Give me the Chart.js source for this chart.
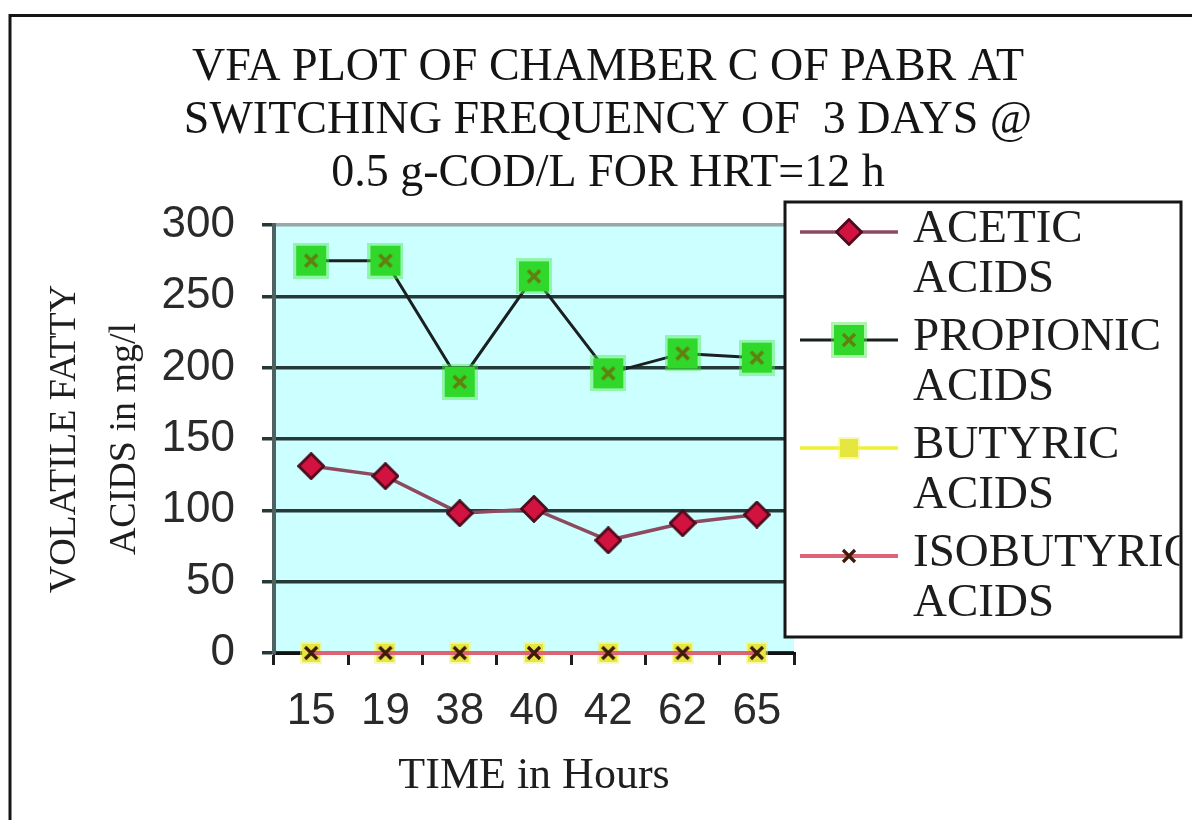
<!DOCTYPE html>
<html>
<head>
<meta charset="utf-8">
<title>VFA plot of chamber C of PABR</title>
<script src="https://cdn.jsdelivr.net/npm/chart.js@4.4.1/dist/chart.umd.min.js"></script>
<style>
  html, body { margin: 0; padding: 0; background: #ffffff; }
  #wrap { width: 1192px; height: 820px; position: relative; }
</style>
</head>
<body>
<div id="wrap"><canvas id="vfa" width="1192" height="820"></canvas></div>
<script>
// Sampling times (hours)
const hours = ['15', '19', '38', '40', '42', '62', '65'];

// Volatile fatty acid concentrations, mg/l
const acetic     = [131, 124, 98, 101, 79, 91, 97];
const propionic  = [275, 275, 190, 264, 196, 210, 207];
const butyric    = [0, 0, 0, 0, 0, 0, 0];
const isobutyric = [0, 0, 0, 0, 0, 0, 0];

// Series names (two lines each in the legend)
const seriesNames = [
  ['ACETIC', 'ACIDS'],
  ['PROPIONIC', 'ACIDS'],
  ['BUTYRIC', 'ACIDS'],
  ['ISOBUTYRIC', 'ACIDS']
];

// Value axis
const yMin = 0;
const yMax = 300;
const yStep = 50;

const titleLines = [
  'VFA PLOT OF CHAMBER C OF PABR AT',
  'SWITCHING FREQUENCY OF  3 DAYS @',
  '0.5 g-COD/L FOR HRT=12 h'
];
const yTitleLines = ['VOLATILE FATTY', 'ACIDS in mg/l'];
const xTitle = 'TIME in Hours';

const SERIF = "'Liberation Serif', 'Times New Roman', serif";
const SANS = "'Liberation Sans', Arial, sans-serif";

// ---- marker glyphs -------------------------------------------------------
function markerCanvas(w, h, paint) {
  const c = document.createElement('canvas');
  c.width = w; c.height = h;
  paint(c.getContext('2d'), w, h);
  return c;
}

const diamondMark = markerCanvas(28, 28, (g, w, h) => {
  g.beginPath();
  g.moveTo(w / 2, 1.5); g.lineTo(w - 1.5, h / 2); g.lineTo(w / 2, h - 1.5); g.lineTo(1.5, h / 2);
  g.closePath();
  g.fillStyle = '#d3133f'; g.fill();
  g.lineWidth = 2.8; g.strokeStyle = '#4d0b1d'; g.stroke();
});

const greenSquareMark = markerCanvas(36, 36, (g, w, h) => {
  g.fillStyle = 'rgba(70, 235, 70, 0.45)';
  g.fillRect(0, 0, w, h);
  g.fillStyle = '#30d82c';
  g.fillRect(3, 3, w - 6, h - 6);
  g.strokeStyle = '#62800f'; g.lineWidth = 3.6;
  g.beginPath();
  g.moveTo(12, 12); g.lineTo(24, 24);
  g.moveTo(24, 12); g.lineTo(12, 24);
  g.stroke();
});

const yellowMark = markerCanvas(22, 22, (g, w, h) => {
  g.fillStyle = 'rgba(245, 245, 90, 0.5)';
  g.fillRect(0, 0, w, h);
  g.fillStyle = '#e6e640';
  g.fillRect(2, 2, w - 4, h - 4);
});

const crossMark = markerCanvas(18, 18, (g) => {
  g.strokeStyle = '#3d1a0a'; g.lineWidth = 3.2;
  g.beginPath();
  g.moveTo(3, 3); g.lineTo(15, 15);
  g.moveTo(15, 3); g.lineTo(3, 15);
  g.stroke();
});

// ---- plugins ---------------------------------------------------------------
const LEGEND_WIDTH = 398;

function drawSideLegend(chart) {
  const ctx = chart.ctx;
  const area = chart.chartArea;
  const left = area.right - 9;
  const right = 1181;
  const top = area.top - 23;
  const bottom = 637;
  ctx.save();
  ctx.fillStyle = '#ffffff';
  ctx.fillRect(left, top, right - left, bottom - top);
  ctx.lineWidth = 3;
  ctx.strokeStyle = '#161616';
  ctx.strokeRect(left, top, right - left, bottom - top);

  ctx.beginPath();
  ctx.rect(left + 1.5, top + 1.5, right - left - 3, bottom - top - 3);
  ctx.clip();

  const firstRow = top + 30;
  const rowGap = 108;
  const lineGap = 50;
  chart.data.datasets.forEach((ds, i) => {
    const y = firstRow + i * rowGap;
    ctx.strokeStyle = ds.borderColor;
    ctx.lineWidth = ds.borderWidth;
    ctx.beginPath();
    ctx.moveTo(left + 15, y);
    ctx.lineTo(left + 113, y);
    ctx.stroke();
    const img = ds.pointStyle;
    ctx.drawImage(img, left + 64 - img.width / 2, y - img.height / 2);

    ctx.fillStyle = '#1d1d1d';
    ctx.font = '47px ' + SERIF;
    ctx.textBaseline = 'middle';
    ctx.textAlign = 'left';
    seriesNames[i].forEach((t, k) => {
      ctx.fillText(t, left + 128, y - 2 + k * lineGap);
    });
  });
  ctx.restore();
}

const sideLegend = {
  id: 'sideLegend',
  beforeInit(chart) {
    const box = {
      position: 'right',
      weight: 100,
      fullSize: false,
      options: {},
      isHorizontal() { return false; },
      update(maxWidth, maxHeight) { this.width = LEGEND_WIDTH; this.height = maxHeight; },
      getPadding() { return { top: 0, left: 0, right: 0, bottom: 0 }; },
      _layers() { return [{ z: 1, draw: () => drawSideLegend(chart) }]; },
      draw() { drawSideLegend(chart); }
    };
    Chart.layouts.addBox(chart, box);
  }
};

const plotBackground = {
  id: 'plotBackground',
  beforeDraw(chart) {
    const { ctx, chartArea: a } = chart;
    ctx.save();
    ctx.fillStyle = '#ccffff';
    ctx.fillRect(a.left, a.top, a.right - a.left, a.bottom - a.top);
    ctx.restore();
  }
};

const outerFrame = {
  id: 'outerFrame',
  afterDraw(chart) {
    const ctx = chart.ctx;
    ctx.save();
    ctx.strokeStyle = '#141414';
    ctx.lineWidth = 3;
    ctx.beginPath();
    ctx.moveTo(10, 820);
    ctx.lineTo(10, 15.5);
    ctx.lineTo(1192, 15.5);
    ctx.stroke();
    ctx.restore();
  }
};

// ---- chart -----------------------------------------------------------------
const series = [
  { label: 'ACETIC ACIDS', data: acetic, color: '#8d4a5e', width: 3.5, mark: diamondMark, order: 0 },
  { label: 'PROPIONIC ACIDS', data: propionic, color: '#1a1f1f', width: 3, mark: greenSquareMark, order: 0 },
  { label: 'BUTYRIC ACIDS', data: butyric, color: '#f0f030', width: 3.5, mark: yellowMark, order: 2 },
  { label: 'ISOBUTYRIC ACIDS', data: isobutyric, color: '#dc6474', width: 4, mark: crossMark, order: 1 }
];

new Chart(document.getElementById('vfa'), {
  type: 'line',
  data: {
    labels: hours,
    datasets: series.map(s => ({
      label: s.label,
      data: s.data,
      borderColor: s.color,
      backgroundColor: s.color,
      borderWidth: s.width,
      pointStyle: s.mark,
      tension: 0,
      fill: false,
      clip: false,
      order: s.order
    }))
  },
  options: {
    responsive: false,
    animation: false,
    devicePixelRatio: 1,
    layout: { padding: { left: 24, right: 0, top: 0, bottom: 0 } },
    plugins: {
      legend: { display: false },
      tooltip: { enabled: false },
      title: {
        display: true,
        text: titleLines,
        color: '#141414',
        font: { family: SERIF, size: 46, weight: 'normal', lineHeight: '53px' },
        padding: { top: 41, bottom: 25 }
      }
    },
    scales: {
      x: {
        type: 'category',
        offset: true,
        grid: {
          offset: true,
          drawOnChartArea: false,
          drawTicks: true,
          tickLength: 12,
          color: '#1e1e1e',
          lineWidth: 3
        },
        border: { display: true, color: '#111111', width: 3 },
        ticks: {
          color: '#2a2a2a',
          font: { family: SANS, size: 44 },
          padding: 20,
          maxRotation: 0,
          autoSkip: false
        },
        title: {
          display: true,
          text: xTitle,
          color: '#1e1e1e',
          font: { family: SERIF, size: 44, lineHeight: 1.2 },
          padding: { top: 0, bottom: 17 }
        },
        afterFit(scale) { scale.height = 167; }
      },
      y: {
        min: yMin,
        max: yMax,
        ticks: {
          stepSize: yStep,
          color: '#2a2a2a',
          font: { family: SANS, size: 44 },
          padding: 27
        },
        grid: {
          color: (c) => (c.tick && c.tick.value === yMax ? '#97a6a6' : '#263838'),
          tickColor: '#263838',
          lineWidth: 3.5,
          tickLength: 12
        },
        border: { display: true, color: '#4e6262', width: 4 },
        title: {
          display: true,
          text: yTitleLines,
          color: '#1e1e1e',
          font: { family: SERIF, size: 38, lineHeight: '60px' },
          padding: { top: 11, bottom: 0 }
        },
        afterFit(scale) { scale.width = 250; }
      }
    }
  },
  plugins: [sideLegend, plotBackground, outerFrame]
});
</script>
</body>
</html>
